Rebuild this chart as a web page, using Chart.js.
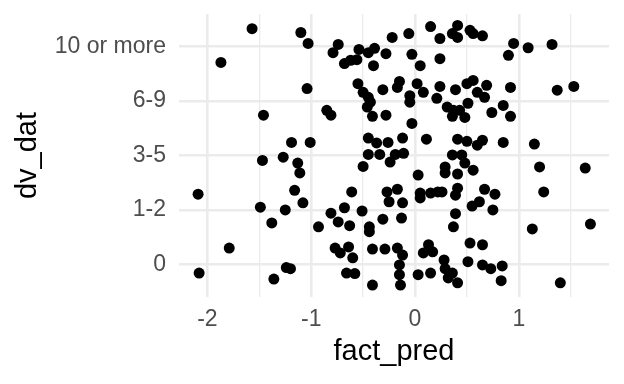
<!DOCTYPE html>
<html>
<head>
<meta charset="utf-8">
<script src="https://cdn.jsdelivr.net/npm/chart.js@4"></script>
<style>
  body { margin: 0; background: #fff; }
  #chart { display: block; }
</style>
</head>
<body>
<canvas id="chart" width="624" height="384"></canvas>
<script>
// y categories (bottom to top), x ticks
const categories = ["0", "1-2", "3-5", "6-9", "10 or more"];
const xTicks = [-2, -1, 0, 1];

// fact_pred values
const factPred = [
  -1.57, -1.87, -1.10, -1.03, -0.74, -0.79, -0.68, -0.62, -0.56, -0.54,
  -0.45, -0.39, -0.40, -0.28, -0.22, -0.06, -0.03, 0.15, 0.24, 0.36,
  0.41, 0.41, 0.53, 0.56, 0.65, 0.05, 0.24, 0.90, 0.95, 1.09, 1.32,
  -1.04, -0.55, -0.50, -0.45, -0.43, -0.46, -0.41, -0.28, -0.31, -0.17,
  -0.15, -0.05, -0.05, -0.85, -0.81, -1.46, 0.02, 0.08, 0.24, 0.21,
  0.39, 0.50, 0.56, 0.60, 0.69, 0.67, 0.92, 0.31, 0.37, 0.36,
  0.43, 0.51, 0.48, 0.74, 0.85, 0.92, -0.03, 1.37, 1.53,
  -1.19, -1.01, -0.45, -0.37, -0.26, -0.12, 0.11, 0.41, 0.50, 0.60,
  0.65, 0.85, 1.15, -1.47, -1.27, -1.13, -1.11, -0.45, -0.34, -0.24,
  -0.19, -0.50, -0.11, 0.36, 0.45, 0.48, 0.56, 0.29, 0.29, 0.41,
  0.03, 1.20, 1.64,
  -2.09, -1.16, -1.08, -1.49, -1.25, -1.38, -0.61, -0.27, -0.17, -0.25,
  -0.12, -0.81, -0.68, -0.51, -0.74, -0.63, -0.93, -0.44, -0.44, -0.31,
  -0.13, 0.05, 0.05, 0.15, 0.22, 0.26, 0.41, 0.39, 0.55, 0.62,
  0.67, 0.77, 0.75, 0.39, 0.37, 1.24, 1.13, 1.69,
  -1.79, -2.08, -1.24, -1.20, -1.36, -0.77, -0.72, -0.64, -0.60, -0.41,
  -0.29, -0.17, -0.12, -0.15, -0.15, -0.66, -0.58, -0.41, -0.14, 0.53,
  0.65, 0.13, 0.08, 0.17, 0.28, 0.29, 0.36, 0.32, 0.41, 0.51,
  0.65, 0.73, 0.84, 0.83, 0.03, 0.15, 1.40
];

// dv_dat positions (category index plus jitter)
const dvDat = [
  4.33, 3.71, 4.26, 4.06, 4.04, 3.89, 3.69, 3.75, 3.76, 3.95,
  3.89, 3.97, 3.65, 3.87, 4.17, 4.24, 3.86, 4.37, 4.15, 4.24,
  4.39, 4.17, 4.30, 4.24, 4.20, 3.65, 3.78, 3.84, 4.06, 3.98, 4.04,
  3.23, 3.32, 3.16, 3.07, 2.98, 2.89, 2.72, 2.74, 3.21, 3.25,
  3.36, 3.10, 2.98, 2.83, 2.74, 2.74, 3.32, 3.16, 3.27, 3.05,
  3.21, 3.32, 3.38, 3.16, 3.29, 3.07, 3.25, 2.89, 2.83, 2.72,
  2.83, 2.96, 2.70, 2.79, 2.92, 2.72, 2.59, 3.20, 3.27,
  2.24, 2.24, 2.32, 2.23, 2.24, 2.32, 2.30, 2.30, 2.26, 2.19,
  2.28, 2.24, 2.21, 1.91, 1.97, 1.86, 1.68, 2.02, 2.02, 1.88,
  2.02, 1.80, 2.04, 2.01, 2.01, 1.86, 1.73, 1.79, 1.68, 1.66,
  1.64, 1.79, 1.77,
  1.29, 1.36, 1.13, 1.05, 1.00, 0.76, 1.33, 1.33, 1.38, 1.15,
  1.13, 0.94, 1.04, 0.98, 0.78, 0.71, 0.69, 0.69, 0.60, 0.83,
  0.85, 1.31, 1.22, 1.31, 1.33, 1.33, 1.40, 1.27, 1.07, 1.15,
  1.38, 1.29, 1.00, 0.93, 0.69, 1.33, 0.65, 0.74,
  0.30, -0.16, -0.06, -0.08, -0.27, 0.30, 0.21, 0.32, 0.12, 0.28,
  0.28, 0.30, 0.17, -0.01, -0.19, -0.16, -0.17, -0.38, -0.38, 0.39,
  0.36, 0.36, 0.21, 0.23, 0.08, -0.08, -0.16, -0.25, -0.34, 0.05,
  -0.01, -0.08, -0.03, -0.30, -0.19, -0.16, -0.34
];

const points = factPred.map((x, i) => ({x: x, y: dvDat[i]}));

const tickFont = {family: "'Liberation Sans', Arial, sans-serif", size: 23};
const titleFont = {family: "'Liberation Sans', Arial, sans-serif", size: 29};

new Chart(document.getElementById("chart"), {
  type: "scatter",
  data: {
    datasets: [{
      data: points,
      backgroundColor: "#000000",
      borderWidth: 0,
      pointRadius: 5.5
    }]
  },
  options: {
    responsive: false,
    animation: false,
    events: [],
    layout: {padding: {left: 0, right: 15, top: 14, bottom: 0}},
    plugins: {legend: {display: false}, tooltip: {enabled: false}},
    scales: {
      x: {
        type: "linear",
        min: -2.274,
        max: 1.869,
        afterBuildTicks: (scale) => {
          const t = [];
          for (const v of xTicks) { t.push({value: v}); t.push({value: v + 0.5}); }
          scale.ticks = t;
        },
        afterFit: (scale) => {
          scale.height = 87;
          scale.paddingLeft = 0;
          scale.paddingRight = 0;
        },
        grid: {
          color: "#EBEBEB",
          lineWidth: (ctx) => (ctx.tick && ctx.tick.value % 1 === 0 ? 2.6 : 1.3),
          drawTicks: false
        },
        border: {display: false},
        ticks: {
          autoSkip: false,
          maxRotation: 0,
          padding: 9,
          color: "#4D4D4D",
          font: tickFont,
          callback: (v) => (v % 1 === 0 ? String(v) : "")
        },
        title: {
          display: true,
          text: "fact_pred",
          color: "#000000",
          font: titleFont,
          padding: {top: 0, bottom: 15}
        }
      },
      y: {
        type: "linear",
        min: -0.6,
        max: 4.6,
        afterBuildTicks: (scale) => {
          scale.ticks = categories.map((c, i) => ({value: i}));
        },
        afterFit: (scale) => {
          scale.width = 179;
          scale.paddingTop = 0;
          scale.paddingBottom = 0;
        },
        grid: {color: "#EBEBEB", lineWidth: 2.6, drawTicks: false},
        border: {display: false},
        ticks: {
          autoSkip: false,
          padding: 13,
          color: "#4D4D4D",
          font: tickFont,
          callback: (v) => categories[v]
        },
        title: {
          display: true,
          text: "dv_dat",
          color: "#000000",
          font: titleFont,
          padding: {top: 11, bottom: 0}
        }
      }
    }
  }
});
</script>
</body>
</html>
